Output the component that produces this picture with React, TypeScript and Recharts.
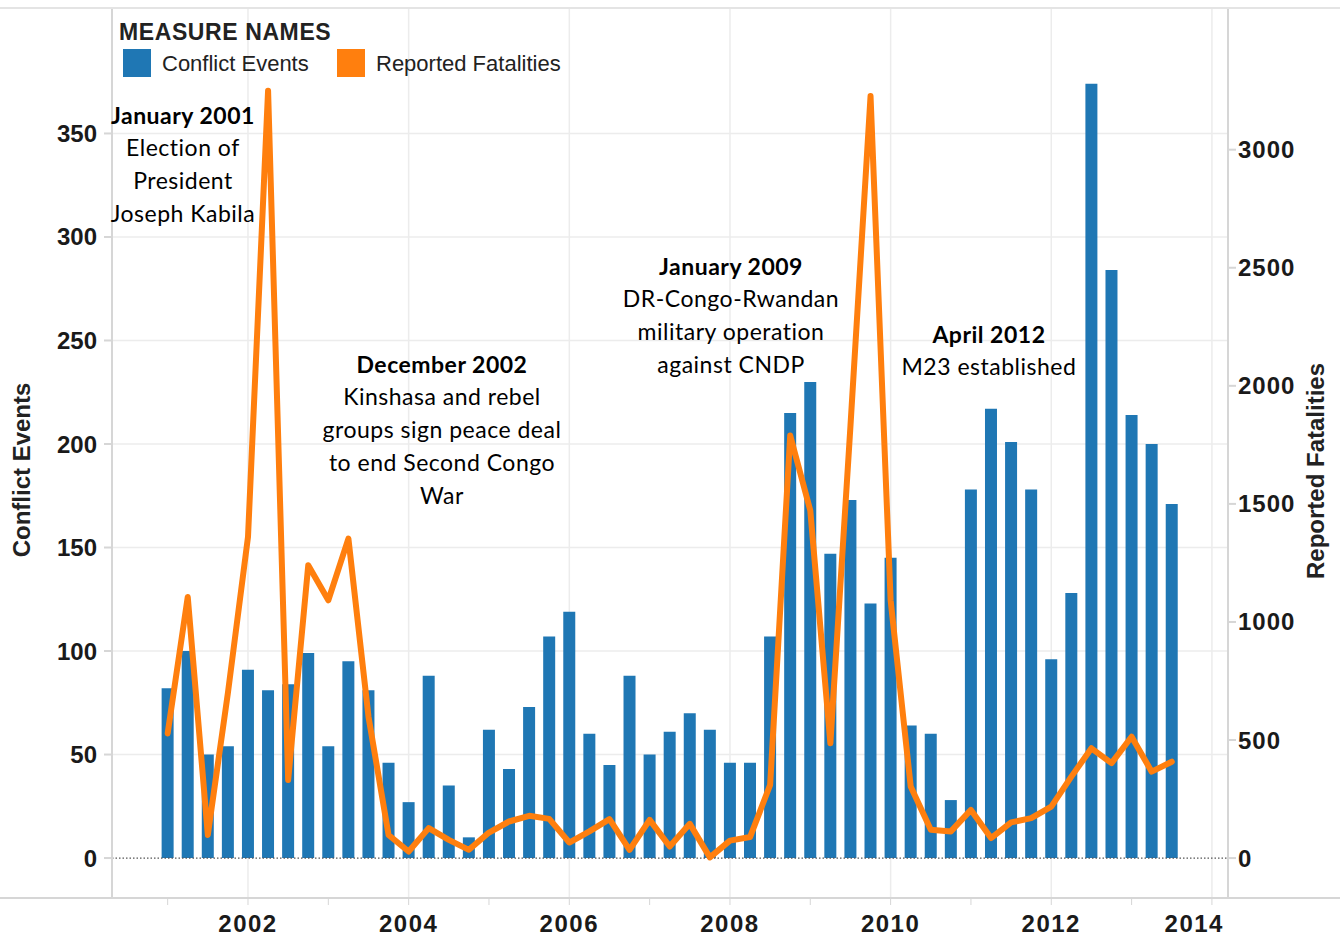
import React from 'react';
import {
  ComposedChart,
  Bar,
  Line,
  XAxis,
  YAxis,
  CartesianGrid,
  ReferenceLine,
  ReferenceDot,
} from 'recharts';

// quarterly series, 2001 Q1 .. 2013 Q3
const quarters = [
  '2001 Q1', '2001 Q2', '2001 Q3', '2001 Q4',
  '2002 Q1', '2002 Q2', '2002 Q3', '2002 Q4',
  '2003 Q1', '2003 Q2', '2003 Q3', '2003 Q4',
  '2004 Q1', '2004 Q2', '2004 Q3', '2004 Q4',
  '2005 Q1', '2005 Q2', '2005 Q3', '2005 Q4',
  '2006 Q1', '2006 Q2', '2006 Q3', '2006 Q4',
  '2007 Q1', '2007 Q2', '2007 Q3', '2007 Q4',
  '2008 Q1', '2008 Q2', '2008 Q3', '2008 Q4',
  '2009 Q1', '2009 Q2', '2009 Q3', '2009 Q4',
  '2010 Q1', '2010 Q2', '2010 Q3', '2010 Q4',
  '2011 Q1', '2011 Q2', '2011 Q3', '2011 Q4',
  '2012 Q1', '2012 Q2', '2012 Q3', '2012 Q4',
  '2013 Q1', '2013 Q2', '2013 Q3',
];

const conflictEvents = [
  82, 100, 50, 54,
  91, 81, 84, 99,
  54, 95, 81, 46,
  27, 88, 35, 10,
  62, 43, 73, 107,
  119, 60, 45, 88,
  50, 61, 70, 62,
  46, 46, 107, 215,
  230, 147, 173, 123,
  145, 64, 60, 28,
  178, 217, 201, 178,
  96, 128, 374, 284,
  214, 200, 171,
];

const reportedFatalities = [
  528, 1106, 98, 700,
  1360, 3250, 331, 1240,
  1092, 1353, 599, 98,
  28, 127, 77, 35,
  108, 155, 179, 166,
  66, 113, 165, 35,
  162, 49, 145, 3,
  74, 89, 310, 1790,
  1472, 486, 1830, 3227,
  1092, 303, 120, 113,
  204, 85, 151, 169,
  218, 345, 465, 402,
  514, 366, 408,
];

const yearTicks = [2001, 2002, 2003, 2004, 2005, 2006, 2007, 2008, 2009, 2010, 2011, 2012, 2013, 2014];
const labelledYears = [2002, 2004, 2006, 2008, 2010, 2012, 2014];
const eventTicks = [0, 50, 100, 150, 200, 250, 300, 350];
const fatalityTicks = [0, 500, 1000, 1500, 2000, 2500, 3000];

const noteLines = [
  ['January 2001', 'Election of', 'President', 'Joseph Kabila'],
  ['December 2002', 'Kinshasa and rebel', 'groups sign peace deal', 'to end Second Congo', 'War'],
  ['January 2009', 'DR-Congo-Rwandan', 'military operation', 'against CNDP'],
  ['April 2012', 'M23 established'],
];
// where each note sits: [year, conflict events]
const noteAnchors = [
  [2001.19, 354.7],
  [2004.415, 234.4],
  [2008.013, 281.8],
  [2011.224, 248.9],
];

const BLUE = '#1f77b4';
const ORANGE = '#ff7f0e';
const TICK_FONT = '"Liberation Sans", Arial, sans-serif';
const LAST_YEAR = yearTicks[yearTicks.length - 1];

function quarterToYear(q: string): number {
  const [y, p] = q.split(' Q');
  return Number(y) + (Number(p) - 1) / 4;
}

const rows = quarters.map((q, i) => ({
  t: quarterToYear(q),
  events: conflictEvents[i],
  fatalities: reportedFatalities[i],
}));

const noteRenderer = (lines: string[]) => (props: any) => {
  const vb = props.viewBox || { x: 0, y: 0, width: 0, height: 0 };
  const cx = vb.x + (vb.width || 0) / 2;
  const cy = vb.y + (vb.height || 0) / 2;
  return (
    <text x={cx} y={cy} textAnchor="middle" fontFamily="Lato, sans-serif" fontSize={23}
      letterSpacing={0.5} fill="#000">
      {lines.map((l, i) => (
        <tspan key={i} x={cx} dy={i === 0 ? 0 : 32.7} fontWeight={i === 0 ? 700 : 400}>
          {l}
        </tspan>
      ))}
    </text>
  );
};

const leftTitle = (props: any) => {
  const vb = props.viewBox;
  const x = vb.x + 21;
  const y = 470;
  return (
    <text x={x} y={y} transform={`rotate(-90 ${x} ${y})`} textAnchor="middle" dominantBaseline="central"
      fontFamily={TICK_FONT} fontWeight={700} fontSize={24} fill="#222">
      Conflict Events
    </text>
  );
};

const rightTitle = (props: any) => {
  const vb = props.viewBox;
  const x = vb.x + 87;
  const y = 471;
  return (
    <text x={x} y={y} transform={`rotate(-90 ${x} ${y})`} textAnchor="middle" dominantBaseline="central"
      fontFamily={TICK_FONT} fontWeight={700} fontSize={24} fill="#222">
      Reported Fatalities
    </text>
  );
};

// year labels: only even years, the last one pulled inside the plot like the original
const YearTick = (props: any) => {
  const { x, y, payload } = props;
  const v = payload.value;
  if (!labelledYears.includes(v)) return null;
  const last = v === LAST_YEAR;
  return (
    <text x={last ? x + 12 : x} y={y + 12} textAnchor={last ? 'end' : 'middle'} dominantBaseline="central"
      fontFamily={TICK_FONT} fontWeight={700} fontSize={24} letterSpacing={1.5} fill="#1a1a1a">
      {v}
    </text>
  );
};

export default function App() {
  const tickStyle = { fontFamily: TICK_FONT, fontWeight: 700, fontSize: 24, fill: '#1a1a1a' };
  return (
    <div style={{ position: 'absolute', left: 0, top: 0, width: 1340, height: 938, background: '#fff' }}>
      <ComposedChart width={1340} height={938} data={rows} margin={{ top: 8, right: 0, bottom: 0, left: 0 }}>
        <CartesianGrid
          yAxisId="left"
          stroke="#ececec"
          strokeWidth={1.5}
          horizontalValues={eventTicks.filter((v) => v > 0)}
          verticalValues={labelledYears}
        />
        <XAxis
          dataKey="t"
          type="number"
          domain={[2000.307, 2014.2]}
          allowDataOverflow
          ticks={yearTicks}
          interval={0}
          height={40}
          tickSize={7}
          tickMargin={6}
          stroke="#d6d6d6"
          tick={<YearTick />}
        />
        <YAxis
          yAxisId="left"
          orientation="left"
          width={112}
          domain={[-19.3, 410.6]}
          allowDataOverflow
          ticks={eventTicks}
          interval={0}
          tickSize={8}
          tickMargin={7}
          stroke="#d6d6d6"
          strokeWidth={2}
          tick={tickStyle}
          label={leftTitle}
        />
        <YAxis
          yAxisId="right"
          orientation="right"
          width={112}
          domain={[-169, 3600]}
          allowDataOverflow
          ticks={fatalityTicks}
          interval={0}
          tickSize={8}
          tickMargin={2}
          stroke="#d6d6d6"
          strokeWidth={2}
          tick={{ ...tickStyle, textAnchor: 'start', letterSpacing: 1 }}
          label={rightTitle}
        />
        <ReferenceLine yAxisId="left" y={0} stroke="#555" strokeDasharray="1.5 2" strokeWidth={1.2} />
        <Bar yAxisId="left" dataKey="events" fill={BLUE} barSize={12} isAnimationActive={false} />
        <Line
          yAxisId="right"
          dataKey="fatalities"
          type="linear"
          stroke={ORANGE}
          strokeWidth={6}
          strokeLinejoin="round"
          strokeLinecap="round"
          dot={false}
          activeDot={false}
          isAnimationActive={false}
        />
        {noteLines.map((lines, i) => (
          <ReferenceDot
            key={i}
            yAxisId="left"
            x={noteAnchors[i][0]}
            y={noteAnchors[i][1]}
            r={0}
            fill="none"
            stroke="none"
            label={noteRenderer(lines)}
          />
        ))}
      </ComposedChart>

      {/* frame lines across the full width */}
      <div style={{ position: 'absolute', left: 0, top: 7, width: 1340, height: 0, borderTop: '2px solid #e4e4e4' }} />
      <div style={{ position: 'absolute', left: 0, top: 897, width: 1340, height: 0, borderTop: '2px solid #d6d6d6' }} />

      {/* legend */}
      <div style={{ position: 'absolute', left: 0, top: 0, fontFamily: TICK_FONT, color: '#222' }}>
        <div style={{ position: 'absolute', left: 119, top: 20, fontWeight: 700, fontSize: 23, lineHeight: '24px', whiteSpace: 'nowrap', letterSpacing: 0.6 }}>
          MEASURE NAMES
        </div>
        <div style={{ position: 'absolute', left: 123, top: 49, width: 28, height: 28, background: BLUE }} />
        <div style={{ position: 'absolute', left: 162, top: 52, fontSize: 22, lineHeight: '24px', whiteSpace: 'nowrap' }}>
          Conflict Events
        </div>
        <div style={{ position: 'absolute', left: 337, top: 49, width: 28, height: 28, background: ORANGE }} />
        <div style={{ position: 'absolute', left: 376, top: 52, fontSize: 22, lineHeight: '24px', whiteSpace: 'nowrap' }}>
          Reported Fatalities
        </div>
      </div>
    </div>
  );
}
